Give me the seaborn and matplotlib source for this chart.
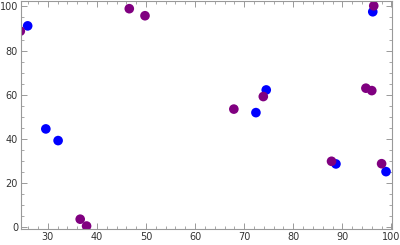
import numpy as np
import pandas as pd
import matplotlib
matplotlib.use('Agg')
import matplotlib.pyplot as plt
from matplotlib.ticker import MultipleLocator
import seaborn as sns

# Series values
blue_x = [25.9, 29.6, 32.1, 72.4, 74.5, 96.2, 88.7, 98.9]
blue_y = [91.2, 44.4, 39.1, 51.8, 62.1, 97.6, 28.5, 25.0]
purple_x = [24.4, 46.6, 49.8, 36.6, 37.9, 67.9, 73.9, 94.8, 96.0, 96.4, 87.8, 98.0]
purple_y = [88.8, 99.0, 95.8, 3.4, 0.3, 53.4, 59.1, 62.9, 61.8, 100.3, 29.7, 28.6]

df = pd.DataFrame({
    'x': blue_x + purple_x,
    'y': blue_y + purple_y,
    'series': ['blue'] * len(blue_x) + ['purple'] * len(purple_x),
})

sns.set_style('ticks')
plt.rcParams['font.family'] = ['DejaVu Sans']

fig = plt.figure(figsize=(4, 2.45), dpi=100)
ax = fig.add_axes([0.052, 0.064, 0.929, 0.932])

sns.scatterplot(data=df, x='x', y='y', hue='series',
                palette={'blue': (0, 0, 1), 'purple': (0.5, 0, 0.5)},
                s=48, linewidth=0, legend=False, ax=ax)

ax.set_xlim(24.5, 100.2)
ax.set_ylim(-1.2, 102.5)
ax.set_xlabel('')
ax.set_ylabel('')

# Mathematica-like frame: gray, inward ticks on all sides
ax.xaxis.set_major_locator(MultipleLocator(10))
ax.xaxis.set_minor_locator(MultipleLocator(2))
ax.yaxis.set_major_locator(MultipleLocator(20))
ax.yaxis.set_minor_locator(MultipleLocator(5))
ax.tick_params(which='both', direction='in', top=True, right=True,
               color='#999999', labelsize=7, labelcolor='#333333', pad=2)
ax.tick_params(which='major', length=4, width=0.7)
ax.tick_params(which='minor', length=2, width=0.6)
for sp in ax.spines.values():
    sp.set_visible(True)
    sp.set_color('#999999')
    sp.set_linewidth(0.8)

fig.savefig('out.png', dpi=100)
